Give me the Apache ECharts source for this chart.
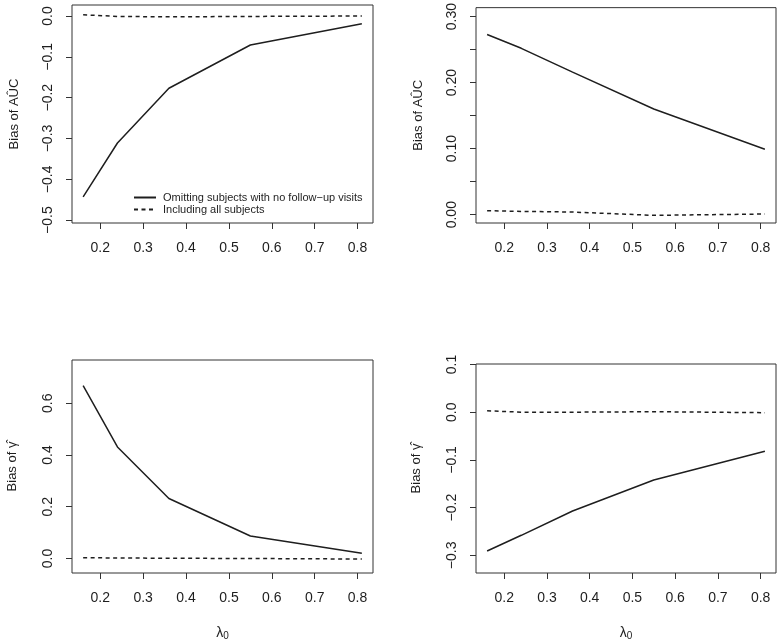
<!DOCTYPE html>
<html>
<head>
<meta charset="utf-8">
<script src="https://cdn.jsdelivr.net/npm/echarts@6/dist/echarts.min.js"></script>
<style>
  html, body { margin: 0; padding: 0; background: #fff; }
  #chart { width: 778px; height: 642px; }
</style>
</head>
<body>
<div id="chart"></div>
<script>
// lambda_0 values on the x axis
var lambda0 = [0.16, 0.24, 0.36, 0.55, 0.81]
var xTicks = [0.2, 0.3, 0.4, 0.5, 0.6, 0.7, 0.8]

// bias of AUC-hat
var aucOmitA = [-0.443, -0.311, -0.177, -0.071, -0.019]
var aucAllA = [0.003, -0.001, -0.002, -0.001, 0.000]
var aucOmitB = [0.273, 0.252, 0.216, 0.160, 0.099]
var aucAllB = [0.006, 0.005, 0.004, -0.001, 0.001]

// bias of gamma-hat
var gamOmitA = [0.668, 0.431, 0.232, 0.087, 0.020]
var gamAllA = [0.003, 0.002, 0.001, 0.000, -0.002]
var gamOmitB = [-0.291, -0.258, -0.207, -0.142, -0.082]
var gamAllB = [0.003, 0.000, 0.000, 0.001, -0.001]

// y tick marks / labels
var aucTicksA = [-0.5, -0.4, -0.3, -0.2, -0.1, 0.0]
var aucTicksB = [0.00, 0.05, 0.10, 0.15, 0.20, 0.25, 0.30]
var aucLabelsB = [0.00, 0.10, 0.20, 0.30]
var gamTicksA = [0.0, 0.2, 0.4, 0.6]
var gamTicksB = [-0.3, -0.2, -0.1, 0.0, 0.1]

var nameOmit = 'Omitting subjects with no follow\u2212up visits'
var nameAll = 'Including all subjects'

var ink = '#1e1e1e'
var font = 'Liberation Sans, Arial, Helvetica, sans-serif'

// grid boxes
var grids = [
  { left: 72, top: 5, width: 301, height: 218 },
  { left: 476, top: 6, width: 300, height: 217 },
  { left: 72, top: 360, width: 301, height: 217 },
  { left: 476, top: 364, width: 300, height: 213 }
]

var panels = [
  { min: -0.507, max: 0.027, ticks: aucTicksA, labels: aucTicksA, dec: 1, title: 'Bias of A\u00DBC', omit: aucOmitA, all: aucAllA, gap: 51 },
  { min: -0.0126, max: 0.3136, ticks: aucTicksB, labels: aucLabelsB, dec: 2, title: 'Bias of A\u00DBC', omit: aucOmitB, all: aucAllB, gap: 51 },
  { min: -0.056, max: 0.767, ticks: gamTicksA, labels: gamTicksA, dec: 1, title: 'Bias of \u03B3\u0302', omit: gamOmitA, all: gamAllA, gap: 53 },
  { min: -0.337, max: 0.101, ticks: gamTicksB, labels: gamTicksB, dec: 1, title: 'Bias of \u03B3\u0302', omit: gamOmitB, all: gamAllB, gap: 53 }
]

function pairs(ys) {
  return lambda0.map(function (x, i) { return [x, ys[i]] })
}

var xAxes = [], yAxes = [], series = []
panels.forEach(function (p, i) {
  grids[i].show = true
  grids[i].borderColor = '#333'
  grids[i].borderWidth = 1
  xAxes.push({
    type: 'value',
    gridIndex: i,
    min: 0.134,
    max: 0.836,
    splitLine: { show: false },
    axisLine: { show: false, onZero: false },
    axisTick: { show: true, length: 6, customValues: xTicks, lineStyle: { color: '#333' } },
    axisLabel: {
      customValues: xTicks, margin: 18, color: ink, fontSize: 14, fontFamily: font,
      formatter: function (v) { return v.toFixed(1) }
    },
    name: i >= 2 ? '{l|\u03BB}{s|0}' : '',
    nameLocation: 'middle',
    nameGap: 52,
    nameTextStyle: {
      rich: {
        l: { fontSize: 14, fontFamily: font, color: ink },
        s: { fontSize: 10, fontFamily: font, color: ink, verticalAlign: 'bottom', padding: [6, 0, 0, 0] }
      }
    }
  })
  yAxes.push({
    type: 'value',
    gridIndex: i,
    min: p.min,
    max: p.max,
    splitLine: { show: false },
    axisLine: { show: false, onZero: false },
    axisTick: { show: true, length: 6, customValues: p.ticks, lineStyle: { color: '#333' } },
    axisLabel: {
      customValues: p.labels, rotate: 90, margin: 17, color: ink, fontSize: 14, fontFamily: font,
      formatter: function (v) { return v.toFixed(p.dec).replace('-', '\u2212') }
    },
    name: p.title,
    nameLocation: 'middle',
    nameRotate: 90,
    nameGap: p.gap,
    nameTextStyle: { fontSize: 13, fontFamily: font, color: ink }
  })
  series.push({
    name: nameOmit, type: 'line', xAxisIndex: i, yAxisIndex: i,
    symbol: 'none', silent: true, data: pairs(p.omit),
    lineStyle: { color: ink, width: 1.5 }, itemStyle: { color: ink }
  })
  series.push({
    name: nameAll, type: 'line', xAxisIndex: i, yAxisIndex: i,
    symbol: 'none', silent: true, data: pairs(p.all),
    lineStyle: { color: ink, width: 1.5, type: [4, 3.5] }, itemStyle: { color: ink }
  })
})

var chart = echarts.init(document.getElementById('chart'), null, { renderer: 'canvas' })
chart.setOption({
  animation: false,
  backgroundColor: '#fff',
  legend: {
    data: [nameOmit, nameAll],
    orient: 'vertical',
    left: 133,
    top: 192,
    padding: 0,
    itemWidth: 22,
    itemHeight: 10,
    itemGap: 1,
    selectedMode: false,
    itemStyle: { opacity: 0 },
    textStyle: { fontSize: 11, fontFamily: font, color: ink, padding: [0, 0, 0, 2] }
  },
  grid: grids,
  xAxis: xAxes,
  yAxis: yAxes,
  series: series
})
</script>
</body>
</html>
